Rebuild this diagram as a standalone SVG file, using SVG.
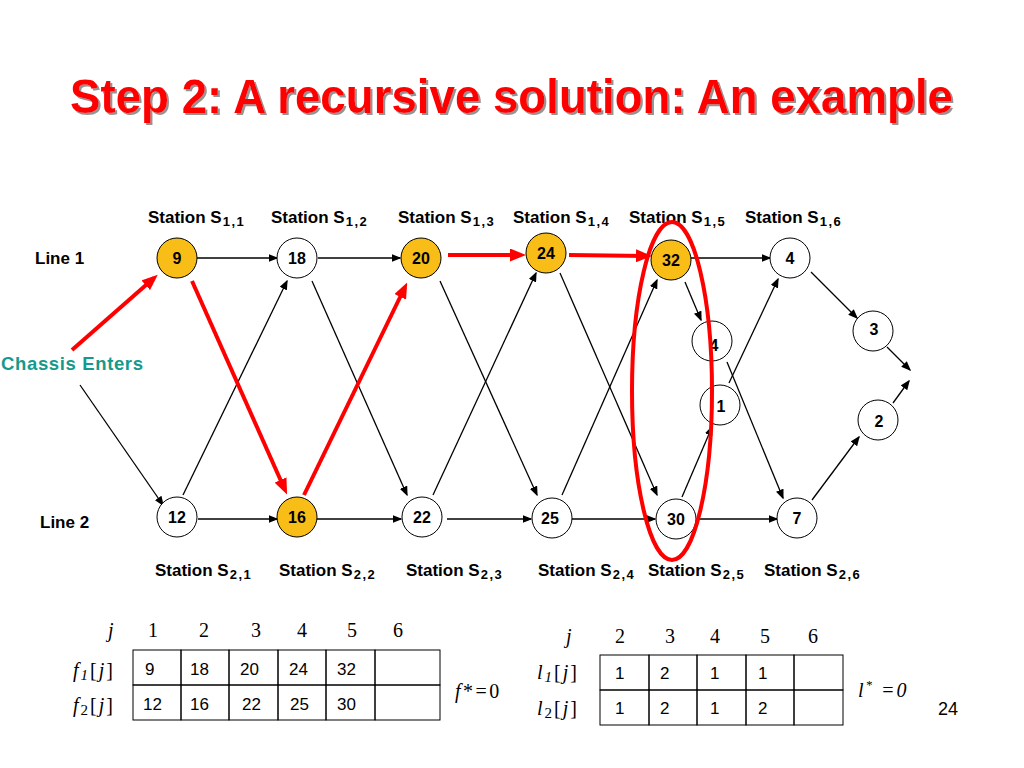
<svg xmlns="http://www.w3.org/2000/svg" width="1024" height="768" viewBox="0 0 1024 768">
<defs>
<style>
.title{font-family:"Liberation Sans",Arial,sans-serif;font-weight:bold;font-size:49px;fill:#ff0000}
.lbl{font-family:"Liberation Sans",Arial,sans-serif;font-weight:bold;font-size:17px;fill:#000}
.sub{font-size:13px;letter-spacing:1.5px}
.node circle{stroke:#000;stroke-width:1;fill:#fff}
.node.hl circle{fill:#f8bd17}
.node text{font-family:"Liberation Sans",Arial,sans-serif;font-weight:bold;font-size:16px;text-anchor:middle;fill:#000}
.edge{stroke:#000;stroke-width:1.3;fill:none;marker-end:url(#ah)}
.red{stroke:#ff0000;stroke-width:4;fill:none;marker-end:url(#ahr)}
.cell{fill:none;stroke:#000;stroke-width:1}
.cv{font-family:"Liberation Sans",Arial,sans-serif;font-size:17px;fill:#000}
.tm{font-family:"Liberation Serif","Times New Roman",serif;font-size:20px;fill:#000}
.it{font-style:italic}
.rl{letter-spacing:2px}
</style>
<marker id="ah" markerUnits="userSpaceOnUse" markerWidth="10" markerHeight="8" refX="8.5" refY="4" orient="auto"><path d="M0,0 L10,4 L0,8 z" fill="#000"/></marker>
<marker id="ahr" markerUnits="userSpaceOnUse" markerWidth="16" markerHeight="13" refX="11" refY="6.5" orient="auto"><path d="M0,0 L16,6.5 L0,13 z" fill="#ff0000"/></marker>
<filter id="sh" x="-5%" y="-20%" width="110%" height="150%"><feDropShadow dx="2" dy="2" stdDeviation="0.6" flood-color="#888" flood-opacity="0.9"/></filter>
</defs>
<rect width="1024" height="768" fill="#fff"/>

<text class="title" x="70" y="113" textLength="883" lengthAdjust="spacingAndGlyphs" filter="url(#sh)">Step 2: A recursive solution: An example</text>

<g id="station-labels">
<text class="lbl" x="148" y="223">Station S<tspan class="sub" dx="1" dy="3">1,1</tspan></text>
<text class="lbl" x="271" y="223">Station S<tspan class="sub" dx="1" dy="3">1,2</tspan></text>
<text class="lbl" x="398" y="223">Station S<tspan class="sub" dx="1" dy="3">1,3</tspan></text>
<text class="lbl" x="513" y="223">Station S<tspan class="sub" dx="1" dy="3">1,4</tspan></text>
<text class="lbl" x="629" y="223">Station S<tspan class="sub" dx="1" dy="3">1,5</tspan></text>
<text class="lbl" x="745" y="223">Station S<tspan class="sub" dx="1" dy="3">1,6</tspan></text>
<text class="lbl" x="155" y="576">Station S<tspan class="sub" dx="1" dy="3">2,1</tspan></text>
<text class="lbl" x="279" y="576">Station S<tspan class="sub" dx="1" dy="3">2,2</tspan></text>
<text class="lbl" x="406" y="576">Station S<tspan class="sub" dx="1" dy="3">2,3</tspan></text>
<text class="lbl" x="538" y="576">Station S<tspan class="sub" dx="1" dy="3">2,4</tspan></text>
<text class="lbl" x="648" y="576">Station S<tspan class="sub" dx="1" dy="3">2,5</tspan></text>
<text class="lbl" x="764" y="576">Station S<tspan class="sub" dx="1" dy="3">2,6</tspan></text>
<text class="lbl" x="35" y="264">Line 1</text>
<text class="lbl" x="40" y="528">Line 2</text>
<text class="lbl" x="1" y="370" textLength="142" style="font-size:18.5px;fill:#149a8d">Chassis Enters</text>
</g>

<g id="connectors">
<line class="edge" x1="197" y1="258" x2="277" y2="258"/>
<line class="edge" x1="318" y1="258" x2="400" y2="258"/>
<line class="edge" x1="691" y1="258" x2="770" y2="258"/>
<line class="edge" x1="198" y1="519" x2="277" y2="519"/>
<line class="edge" x1="317" y1="519" x2="401" y2="519"/>
<line class="edge" x1="447" y1="519" x2="531" y2="519"/>
<line class="edge" x1="572" y1="519" x2="655" y2="519"/>
<line class="edge" x1="697" y1="519" x2="777" y2="519"/>
<line class="edge" x1="183" y1="495" x2="287" y2="281"/>
<line class="edge" x1="312" y1="281" x2="407" y2="495"/>
<line class="edge" x1="440" y1="281" x2="537" y2="495"/>
<line class="edge" x1="433" y1="495" x2="536" y2="273"/>
<line class="edge" x1="560" y1="273" x2="657" y2="495"/>
<line class="edge" x1="562" y1="495" x2="657" y2="280"/>
<line class="edge" x1="685" y1="282" x2="701" y2="320"/>
<line class="edge" x1="682" y1="497" x2="712" y2="427"/>
<line class="edge" x1="727" y1="362" x2="783" y2="498"/>
<line class="edge" x1="729" y1="383" x2="778" y2="279"/>
<line class="edge" x1="811" y1="272" x2="857" y2="318"/>
<line class="edge" x1="812" y1="500" x2="859" y2="437"/>
<line class="edge" x1="887" y1="347" x2="910" y2="370"/>
<line class="edge" x1="893" y1="403" x2="909" y2="381"/>
<line class="edge" x1="80" y1="385" x2="163" y2="505"/>
<line class="red" x1="72" y1="350" x2="154" y2="278"/>
<line class="red" x1="192" y1="281" x2="285" y2="490"/>
<line class="red" x1="304" y1="495" x2="405" y2="287"/>
<line class="red" x1="448" y1="255" x2="521" y2="255"/>
<line class="red" x1="569" y1="255" x2="647" y2="256"/>
</g>

<g id="n11" class="node hl"><circle cx="177" cy="258" r="20"/><text x="177" y="264">9</text></g>
<g id="n12" class="node"><circle cx="297" cy="258" r="20"/><text x="297" y="264">18</text></g>
<g id="n13" class="node hl"><circle cx="421" cy="258" r="20"/><text x="421" y="264">20</text></g>
<g id="n14" class="node hl"><circle cx="546" cy="253" r="20"/><text x="546" y="259">24</text></g>
<g id="n15" class="node hl"><circle cx="671" cy="260" r="20"/><text x="671" y="266">32</text></g>
<g id="n16" class="node"><circle cx="790" cy="258" r="20"/><text x="790" y="264">4</text></g>
<g id="n21" class="node"><circle cx="177" cy="517" r="20"/><text x="177" y="523">12</text></g>
<g id="n22" class="node hl"><circle cx="297" cy="517" r="20"/><text x="297" y="523">16</text></g>
<g id="n23" class="node"><circle cx="422" cy="517" r="20"/><text x="422" y="523">22</text></g>
<g id="n24" class="node"><circle cx="552" cy="518" r="20"/><text x="550" y="524">25</text></g>
<g id="n25" class="node"><circle cx="676" cy="519" r="20"/><text x="676" y="525">30</text></g>
<g id="n26" class="node"><circle cx="797" cy="518" r="20"/><text x="797" y="524">7</text></g>
<g id="t1" class="node"><circle cx="712" cy="341" r="20"/><text x="714" y="351">4</text></g>
<g id="t2" class="node"><circle cx="720" cy="405" r="20"/><text x="721" y="412">1</text></g>
<g id="x1" class="node"><circle cx="873" cy="331" r="20"/><text x="874" y="335">3</text></g>
<g id="x2" class="node"><circle cx="878" cy="420" r="20"/><text x="879" y="427">2</text></g>

<ellipse id="highlight" cx="672" cy="391" rx="40" ry="169" fill="none" stroke="#ff0000" stroke-width="4"/>

<g id="table-f">
<text class="tm it" x="108" y="637">j</text>
<text class="tm" x="153" y="637" text-anchor="middle">1</text>
<text class="tm" x="204" y="637" text-anchor="middle">2</text>
<text class="tm" x="256" y="637" text-anchor="middle">3</text>
<text class="tm" x="302" y="637" text-anchor="middle">4</text>
<text class="tm" x="352" y="637" text-anchor="middle">5</text>
<text class="tm" x="398" y="637" text-anchor="middle">6</text>
<text class="tm rl" x="73" y="677"><tspan class="it">f</tspan><tspan class="it" font-size="15" dy="3">1</tspan><tspan dy="-3">[</tspan><tspan class="it">j</tspan>]</text>
<text class="tm rl" x="73" y="712"><tspan class="it">f</tspan><tspan font-size="15" dy="3">2</tspan><tspan dy="-3">[</tspan><tspan class="it">j</tspan>]</text>
<rect class="cell" x="133" y="650" width="48" height="35"/>
<rect class="cell" x="181" y="650" width="48" height="35"/>
<rect class="cell" x="229" y="650" width="49" height="35"/>
<rect class="cell" x="278" y="650" width="48" height="35"/>
<rect class="cell" x="326" y="650" width="49" height="35"/>
<rect class="cell" x="375" y="650" width="65" height="35"/>
<rect class="cell" x="133" y="685" width="48" height="35"/>
<rect class="cell" x="181" y="685" width="48" height="35"/>
<rect class="cell" x="229" y="685" width="49" height="35"/>
<rect class="cell" x="278" y="685" width="48" height="35"/>
<rect class="cell" x="326" y="685" width="49" height="35"/>
<rect class="cell" x="375" y="685" width="65" height="35"/>
<text class="cv" x="145" y="675">9</text>
<text class="cv" x="190" y="675">18</text>
<text class="cv" x="240" y="675">20</text>
<text class="cv" x="289" y="675">24</text>
<text class="cv" x="337" y="675">32</text>
<text class="cv" x="143" y="710">12</text>
<text class="cv" x="190" y="710">16</text>
<text class="cv" x="242" y="710">22</text>
<text class="cv" x="290" y="710">25</text>
<text class="cv" x="337" y="710">30</text>
<text class="tm" x="455" y="698" style="letter-spacing:2.5px"><tspan class="it">f</tspan>*=0</text>
</g>

<g id="table-l">
<text class="tm it" x="566" y="643">j</text>
<text class="tm" x="620" y="643" text-anchor="middle">2</text>
<text class="tm" x="670" y="643" text-anchor="middle">3</text>
<text class="tm" x="715" y="643" text-anchor="middle">4</text>
<text class="tm" x="765" y="643" text-anchor="middle">5</text>
<text class="tm" x="813" y="643" text-anchor="middle">6</text>
<text class="tm rl" x="537" y="679"><tspan class="it">l</tspan><tspan class="it" font-size="15" dy="3">1</tspan><tspan dy="-3">[</tspan><tspan class="it">j</tspan>]</text>
<text class="tm rl" x="537" y="715"><tspan class="it">l</tspan><tspan font-size="15" dy="3">2</tspan><tspan dy="-3">[</tspan><tspan class="it">j</tspan>]</text>
<rect class="cell" x="600" y="655" width="49" height="35"/>
<rect class="cell" x="649" y="655" width="48" height="35"/>
<rect class="cell" x="697" y="655" width="49" height="35"/>
<rect class="cell" x="746" y="655" width="48" height="35"/>
<rect class="cell" x="794" y="655" width="49" height="35"/>
<rect class="cell" x="600" y="690" width="49" height="35"/>
<rect class="cell" x="649" y="690" width="48" height="35"/>
<rect class="cell" x="697" y="690" width="49" height="35"/>
<rect class="cell" x="746" y="690" width="48" height="35"/>
<rect class="cell" x="794" y="690" width="49" height="35"/>
<text class="cv" x="615" y="679">1</text>
<text class="cv" x="660" y="679">2</text>
<text class="cv" x="710" y="679">1</text>
<text class="cv" x="758" y="679">1</text>
<text class="cv" x="615" y="714">1</text>
<text class="cv" x="660" y="714">2</text>
<text class="cv" x="710" y="714">1</text>
<text class="cv" x="758" y="714">2</text>
<text class="tm it" x="858" y="697" style="letter-spacing:2px">l<tspan font-size="13" dy="-8">*</tspan><tspan dy="8"> =0</tspan></text>
</g>

<text x="938" y="715" font-family="Liberation Sans, Arial, sans-serif" font-size="18" fill="#000">24</text>
</svg>
